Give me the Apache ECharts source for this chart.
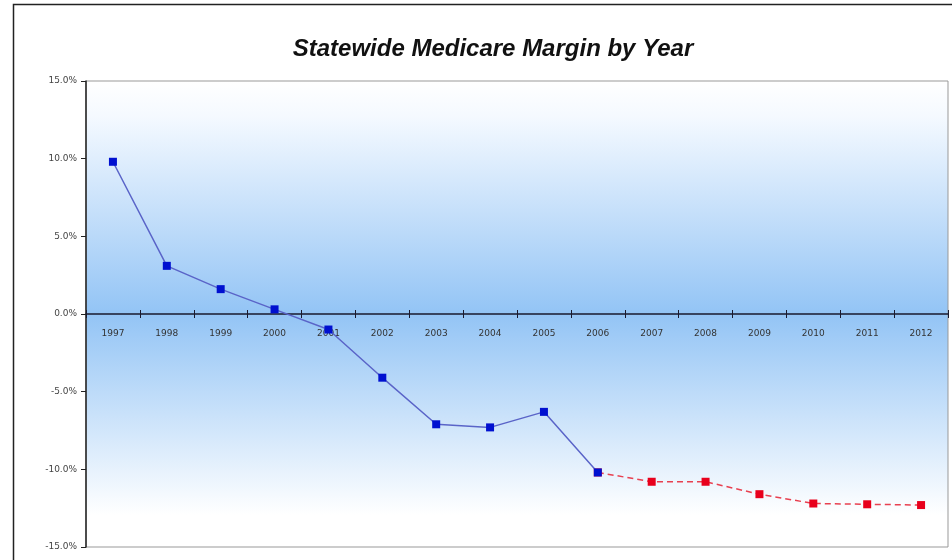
<!DOCTYPE html>
<html>
<head>
<meta charset="utf-8">
<script src="https://cdn.jsdelivr.net/npm/echarts@6/dist/echarts.min.js"></script>
<style>
  html, body { margin: 0; padding: 0; background: #fff; }
  #main { width: 952px; height: 560px; }
</style>
</head>
<body>
<div id="main"></div>
<script>
// data
var years = ['1997', '1998', '1999', '2000', '2001', '2002', '2003', '2004',
             '2005', '2006', '2007', '2008', '2009', '2010', '2011', '2012'];
var actual = [9.8, 3.1, 1.6, 0.3, -1.0, -4.1, -7.1, -7.3, -6.3, -10.2,
              null, null, null, null, null, null];
var projected = [null, null, null, null, null, null, null, null, null, -10.2,
                 -10.8, -10.8, -11.6, -12.2, -12.25, -12.3];
var yTicks = { min: -15, max: 15, step: 5 };

var chart = echarts.init(document.getElementById('main'));

// grid is 466px tall, zero sits in the middle
var zeroOffset = -233;

var option = {
    backgroundColor: '#fff',
    animation: false,
    title: {
        text: 'Statewide Medicare Margin by Year',
        left: 488,
        textAlign: 'center',
        top: 32,
        textStyle: {
            fontFamily: 'Liberation Sans',
            fontSize: 24,
            fontWeight: 'bold',
            fontStyle: 'italic',
            color: '#111'
        }
    },
    graphic: [{
        type: 'rect',
        shape: { x: 13.5, y: 4.5, width: 960, height: 600 },
        style: { fill: 'none', stroke: '#222', lineWidth: 1.5 },
        silent: true,
        z: -10
    }],
    grid: {
        left: 86, right: 4, top: 81, bottom: 13,
        outerBoundsMode: 'none',
        containLabel: false,
        show: true,
        borderColor: '#999',
        borderWidth: 1,
        backgroundColor: {
            type: 'linear', x: 0, y: 0, x2: 0, y2: 1,
            colorStops: [
                { offset: 0, color: '#ffffff' },
                { offset: 0.08, color: '#f4f9ff' },
                { offset: 0.5, color: '#93c4f5' },
                { offset: 0.93, color: '#ffffff' },
                { offset: 1, color: '#ffffff' }
            ]
        }
    },
    xAxis: [{
        type: 'category',
        data: years,
        boundaryGap: true,
        position: 'bottom',
        offset: zeroOffset,
        axisLine: { onZero: false, lineStyle: { color: '#1a1a2e', width: 1.5 } },
        axisTick: { show: true, length: 4, lineStyle: { color: '#1a1a2e' } },
        axisLabel: {
            fontFamily: 'DejaVu Sans',
            fontSize: 9,
            color: '#333',
            margin: 15
        },
        splitLine: { show: false }
    }, {
        // upper half of the crossing ticks
        type: 'category',
        data: years,
        boundaryGap: true,
        position: 'bottom',
        offset: zeroOffset,
        axisLine: { show: false, onZero: false },
        axisTick: { show: true, inside: true, length: 4, lineStyle: { color: '#1a1a2e' } },
        axisLabel: { show: false },
        splitLine: { show: false }
    }],
    yAxis: {
        type: 'value',
        min: yTicks.min,
        max: yTicks.max,
        interval: yTicks.step,
        axisLine: { show: true, lineStyle: { color: '#222', width: 1.5 } },
        axisTick: { show: true, length: 5, lineStyle: { color: '#222' } },
        axisLabel: {
            fontFamily: 'DejaVu Sans',
            fontSize: 9,
            color: '#444',
            margin: 9,
            formatter: function (v) { return v.toFixed(1) + '%'; }
        },
        splitLine: { show: false }
    },
    series: [{
        name: 'Projected',
        type: 'line',
        data: projected,
        symbol: 'rect',
        symbolSize: 8,
        connectNulls: false,
        itemStyle: { color: '#e8001c' },
        lineStyle: { color: '#e84050', width: 1.5, type: [6, 4] },
        z: 2
    }, {
        name: 'Actual',
        type: 'line',
        data: actual,
        symbol: 'rect',
        symbolSize: 8,
        connectNulls: false,
        itemStyle: { color: '#0010d0' },
        lineStyle: { color: '#5a64c8', width: 1.5 },
        z: 3
    }]
};

chart.setOption(option);
</script>
</body>
</html>
